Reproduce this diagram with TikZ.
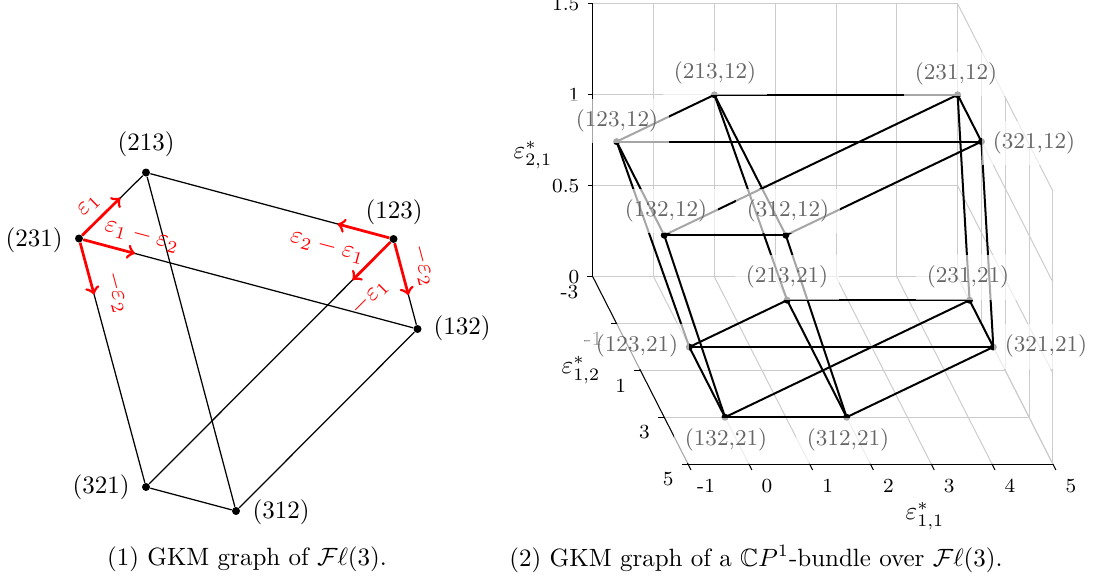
\documentclass[tikz,border=0pt]{standalone}
\usepackage{amssymb}
\usetikzlibrary{calc}
\begin{document}
\begin{tikzpicture}[x=0.4pt,y=-0.4pt,
  vdot/.style={circle,fill=black,inner sep=0pt,minimum size=3.2pt},
  edge/.style={line width=0.5pt},
  warr/.style={red,line width=1.1pt,->},
  wlab/.style={red,inner sep=0pt,sloped},
  gridc/.style={black!20,line width=0.4pt},
  axline/.style={black,line width=0.4pt},
  pedge/.style={line width=0.8pt},
  pdot/.style={circle,fill=black,inner sep=0pt,minimum size=2.8pt},
  plab/.style={font=\small,text=black!60,fill=white,fill opacity=0.65,text opacity=1,inner sep=4.5pt},
  tlab/.style={font=\footnotesize,inner sep=0pt}]
\useasboundingbox (0,0) rectangle (1097,581);

% ---------- left: GKM graph of Fl(3)
\node[vdot] (v213) at (146,172.5) {};
\node[vdot] (v231) at (79,238.5) {};
\node[vdot] (v123) at (393.5,239) {};
\node[vdot] (v132) at (417.5,329) {};
\node[vdot] (v321) at (146,487) {};
\node[vdot] (v312) at (236,511) {};

\node (l213) at (146,144) {(213)};
\node (l231) at (34,240) {(231)};
\node (l123) at (394,212) {(123)};
\node (l132) at (462,328) {(132)};
\node (l321) at (101,487) {(321)};
\node (l312) at (281,512) {(312)};

\draw[edge] (v213) -- (v123);
\draw[edge] (v213) -- (v312);
\draw[edge] (v213) -- (v231);
\draw[edge] (v231) -- (v132);
\draw[edge] (v231) -- (v321);
\draw[edge] (v123) -- (v132);
\draw[edge] (v123) -- (v321);
\draw[edge] (v132) -- (v312);
\draw[edge] (v321) -- (v312);

\draw[warr] (v231) -- ($(v231)!23.2pt!(v213)$) node[wlab,pos=0.48,above=3.1pt] {$\varepsilon_1$};
\draw[warr] (v231) -- ($(v231)!23.2pt!(v132)$) node[wlab,pos=1.04,above=3.5pt] {$\varepsilon_1-\varepsilon_2$};
\draw[warr] (v231) -- ($(v231)!23.2pt!(v321)$) node[wlab,pos=1.07,above=4.9pt] {$-\varepsilon_2$};
\draw[warr] (v123) -- ($(v123)!23.2pt!(v213)$) node[wlab,pos=1.07,below=5.5pt] {$\varepsilon_2-\varepsilon_1$};
\draw[warr] (v123) -- ($(v123)!23.2pt!(v321)$) node[wlab,pos=1.0,below=5.5pt] {$-\varepsilon_1$};
\draw[warr] (v123) -- ($(v123)!23.2pt!(v132)$) node[wlab,pos=0.54,above=4.6pt] {$-\varepsilon_2$};

% ---------- right: 3D GKM graph
\begin{scope}[shift={(275.72pt,-138.8pt)}, x={(24.32pt,0pt)}, y={(4.76pt,-9.36pt)}, z={(0pt,72.8pt)}]
  % grid
  \foreach \xx in {-1,...,5} {
    \draw[gridc] (\xx,-3,0) -- (\xx,-3,1.5);
    \draw[gridc] (\xx,-3,0) -- (\xx,5,0);
  }
  \foreach \zz in {0,0.5,1,1.5} {
    \draw[gridc] (-1,-3,\zz) -- (5,-3,\zz);
    \draw[gridc] (5,-3,\zz) -- (5,5,\zz);
  }
  \foreach \yy in {-3,-1,1,3,5} {
    \draw[gridc] (-1,\yy,0) -- (5,\yy,0);
    \draw[gridc] (5,\yy,0) -- (5,\yy,1.5);
  }
  % axes
  \draw[axline] (-1,-3,0) -- (-1,-3,1.5);
  \draw[axline] (-1,-3,0) -- (-1,5,0);
  \draw[axline] (-1,5,0) -- (5,5,0);
  % ticks
  \foreach \zz/\tt [count=\i] in {0/0,0.5/0.5,1/1,1.5/1.5} {
    \draw[axline] (-1,-3,\zz) -- ++(-2pt,0pt);
    \node[tlab,anchor=east,xshift=-5.2pt] (zt\i) at (-1,-3,\zz) {\tt};
  }
  \foreach \xx [count=\i] in {-1,...,5} {
    \draw[axline] (\xx,5,0) -- ++(1.2pt,-2.4pt);
    \node[tlab,xshift=7.2pt,yshift=-8.8pt] (xt\i) at (\xx,5,0) {\xx};
  }
  \foreach \yy [count=\i] in {-3,-1,1,3,5} {
    \draw[axline] (-1,\yy,0) -- ++(-2.4pt,0pt);
    \node[tlab,anchor=east,xshift=-5.6pt,yshift=-6pt] (yt\i) at (-1,\yy,0) {\yy};
  }
  % vertices
  \node[pdot] (A) at (1,-3,1) {};
  \node[pdot] (B) at (5,-3,1) {};
  \node[pdot] (C) at (-1,-1,1) {};
  \node[pdot] (D) at (5,-1,1) {};
  \node[pdot] (E) at (-1,3,1) {};
  \node[pdot] (F) at (1,3,1) {};
  \node[pdot] (a) at (2,-2,0) {};
  \node[pdot] (b) at (5,-2,0) {};
  \node[pdot] (c) at (0,0,0) {};
  \node[pdot] (d) at (5,0,0) {};
  \node[pdot] (e) at (0,3,0) {};
  \node[pdot] (f) at (2,3,0) {};
  % edges
  \foreach \p/\q in {A/C,A/F,A/B,B/E,B/D,C/E,C/D,E/F,D/F,
                     a/c,a/f,a/b,b/e,b/d,c/e,c/d,e/f,d/f,
                     A/a,B/b,C/c,D/d,E/e,F/f}
    \draw[pedge] (\p.center) -- (\q.center);
\end{scope}

\node[plab] (lA) at (715,73) {(213,12)};
\node[plab] (lB) at (956,74) {(231,12)};
\node[plab] (lC) at (617,121) {(123,12)};
\node[plab] (lD) at (1034,143) {(321,12)};
\node[plab] (lE) at (666,211) {(132,12)};
\node[plab] (lF) at (788,211) {(312,12)};
\node[plab] (la) at (787,277) {(213,21)};
\node[plab] (lb) at (968,277) {(231,21)};
\node[plab] (lc) at (637,346) {(123,21)};
\node[plab] (ld) at (1046,346) {(321,21)};
\node[plab] (le) at (726,440) {(132,21)};
\node[plab] (lf) at (848,440) {(312,21)};

\node (axz) at (533,155) {$\varepsilon^*_{2,1}$};
\node (axy) at (581,370) {$\varepsilon^*_{1,2}$};
\node (axx) at (925,516) {$\varepsilon^*_{1,1}$};

% captions
\node (cap1) at (247,559) {(1) GKM graph of $\mathcal{F}\ell(3)$.};
\node (cap2) at (756,559) {(2) GKM graph of a $\mathbb{C}P^1$-bundle over $\mathcal{F}\ell(3)$.};
\end{tikzpicture}
\end{document}
